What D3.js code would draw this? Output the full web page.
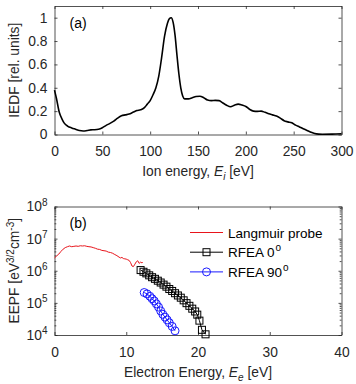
<!DOCTYPE html>
<html>
<head>
<meta charset="utf-8">
<script src="https://cdn.jsdelivr.net/npm/d3@7"></script>
<style>
    body { margin: 0; background: #fff; }
    svg { font-family: "Liberation Sans", Arial, sans-serif; }
    .domain { stroke: #262626; stroke-width: 0.8; }
    .tick line { stroke: #262626; stroke-width: 0.8; }
    .tick text { fill: #262626; font-size: 13.8px; }
</style>
</head>
<body>
<svg id="chart" width="356" height="384"></svg>
<script>
// (a) IEDF
var ionEnergy = [0, 2, 5, 8, 10, 14, 18, 22, 26, 30, 34, 38, 42, 46, 50, 54, 58, 62, 66, 70, 74, 78, 82, 86, 90, 94, 97, 100, 103, 106, 109, 112, 115, 118, 120, 122, 124, 126, 128, 130, 132, 134, 136, 140, 144, 148, 152, 156, 160, 164, 168, 172, 176, 180, 184, 188, 192, 196, 200, 204, 208, 212, 216, 220, 224, 228, 232, 236, 240, 244, 248, 252, 256, 260, 264, 268, 272, 276, 280, 290, 300];
var iedf = [0.38, 0.31, 0.19, 0.13, 0.10, 0.07, 0.056, 0.045, 0.034, 0.03, 0.034, 0.04, 0.041, 0.045, 0.058, 0.078, 0.095, 0.115, 0.14, 0.16, 0.168, 0.175, 0.19, 0.205, 0.212, 0.23, 0.26, 0.29, 0.34, 0.4, 0.5, 0.66, 0.84, 0.95, 0.99, 1.0, 0.96, 0.85, 0.68, 0.52, 0.4, 0.33, 0.305, 0.305, 0.315, 0.325, 0.328, 0.315, 0.295, 0.29, 0.292, 0.29, 0.27, 0.25, 0.238, 0.25, 0.26, 0.252, 0.24, 0.215, 0.2, 0.198, 0.2, 0.19, 0.178, 0.168, 0.158, 0.14, 0.118, 0.108, 0.1, 0.08, 0.065, 0.05, 0.035, 0.02, 0.008, 0.003, 0.002, 0.003, 0.006];
var iedfXTicks = [0, 50, 100, 150, 200, 250, 300];
var iedfYTicks = [0, 0.2, 0.4, 0.6, 0.8, 1];

// (b) EEPF
var probeEnergy = [0, 0.3, 0.6, 0.9, 1.2, 1.5, 1.8, 2.1, 2.4, 2.7, 3.0, 3.3, 3.6, 3.9, 4.2, 4.5, 4.8, 5.1, 5.4, 5.7, 6.0, 6.3, 6.6, 6.9, 7.2, 7.5, 7.8, 8.1, 8.4, 8.7, 9.0, 9.2, 9.4, 9.6, 9.8, 10.0, 10.2, 10.4, 10.6, 10.8, 11.0, 11.2, 11.4, 11.6, 11.8, 12.0, 12.2, 12.3];
var probeEepf = [2.5e6, 2.9e6, 3.3e6, 4.0e6, 4.7e6, 5.25e6, 5.6e6, 5.9e6, 5.6e6, 5.75e6, 5.9e6, 5.75e6, 6.0e6, 5.9e6, 6.0e6, 5.75e6, 5.6e6, 5.5e6, 5.25e6, 5.0e6, 4.7e6, 4.6e6, 4.3e6, 4.2e6, 4.1e6, 3.8e6, 3.7e6, 3.5e6, 3.2e6, 2.95e6, 2.65e6, 2.5e6, 2.6e6, 2.4e6, 2.35e6, 2.3e6, 2.2e6, 2.1e6, 1.8e6, 1.4e6, 1.35e6, 1.6e6, 1.9e6, 2.05e6, 1.7e6, 1.85e6, 1.75e6, 1.85e6];
var rfea0Energy = [12.0, 12.4, 12.8, 13.2, 13.6, 14.0, 14.4, 14.8, 15.2, 15.6, 16.0, 16.4, 16.8, 17.2, 17.6, 18.0, 18.4, 18.8, 19.2, 19.6, 19.9, 20.2, 20.55, 21.05];
var rfea0Eepf = [1.05e6, 9.3e5, 8.3e5, 7.2e5, 6.3e5, 5.6e5, 4.9e5, 4.3e5, 3.7e5, 3.2e5, 2.7e5, 2.35e5, 2.0e5, 1.7e5, 1.45e5, 1.2e5, 9.8e4, 8.1e4, 6.6e4, 5.4e4, 4.3e4, 2.8e4, 1.45e4, 1.05e4];
var rfea90Energy = [12.5, 12.9, 13.3, 13.6, 13.9, 14.2, 14.5, 14.8, 15.1, 15.4, 15.7, 16.0, 16.4, 16.8];
var rfea90Eepf = [2.1e5, 1.9e5, 1.6e5, 1.35e5, 1.15e5, 9.3e4, 7.4e4, 5.6e4, 4.4e4, 3.6e4, 2.95e4, 2.4e4, 1.85e4, 1.35e4];
var eepfXTicks = [0, 10, 20, 30, 40];
var eepfYTicks = [1e4, 1e5, 1e6, 1e7, 1e8];
var legendNames = ["Langmuir probe", "RFEA 0", "RFEA 90"];

var svg = d3.select("#chart");
var left = 54.5, right = 341.5;

function boxAxes(g, xScale, yScale, xTicks, yTicks, h, w) {
    g.append('g').attr('transform', 'translate(0,' + h + ')')
        .call(d3.axisBottom(xScale).tickValues(xTicks).tickSizeInner(-3).tickSizeOuter(0).tickPadding(12));
    g.append('g')
        .call(d3.axisTop(xScale).tickValues(xTicks).tickSizeInner(-3).tickSizeOuter(0).tickFormat(''));
    var yl = g.append('g')
        .call(d3.axisLeft(yScale).tickValues(yTicks).tickSizeInner(-3).tickSizeOuter(0).tickPadding(7)
            .tickFormat(d3.format('~g')));
    g.append('g').attr('transform', 'translate(' + w + ',0)')
        .call(d3.axisRight(yScale).tickValues(yTicks).tickSizeInner(-3).tickSizeOuter(0).tickFormat(''));
    return yl;
}

// ---------- panel (a) ----------
var pa = {top: 6, bottom: 134.5};
var wa = right - left, ha = pa.bottom - pa.top;
var ga = svg.append('g').attr('transform', 'translate(' + left + ',' + pa.top + ')');
var xa = d3.scaleLinear().domain([0, 300]).range([0, wa]);
var ya = d3.scaleLinear().domain([0, 1.1]).range([ha, 0]);
boxAxes(ga, xa, ya, iedfXTicks, iedfYTicks, ha, wa);

var iedfData = ionEnergy.map(function(d, i) { return {x: d, y: iedf[i]}; });
ga.append('path').datum(iedfData)
    .attr('fill', 'none').attr('stroke', '#000').attr('stroke-width', 1.6)
    .attr('d', d3.line().x(function(d) { return xa(d.x); }).y(function(d) { return ya(d.y); }).curve(d3.curveMonotoneX));

ga.append('text').attr('x', 15).attr('y', 22).attr('font-size', '14px').attr('fill', '#000').text('(a)');

var xla = svg.append('text').attr('x', left + wa / 2).attr('y', 176).attr('text-anchor', 'middle')
    .attr('font-size', '13.8px').attr('fill', '#262626');
xla.append('tspan').text('Ion energy, ');
xla.append('tspan').attr('font-style', 'italic').text('E');
xla.append('tspan').attr('font-style', 'italic').attr('font-size', '10px').attr('dy', 4).text('i');
xla.append('tspan').attr('dy', -4).text(' [eV]');

svg.append('text').attr('transform', 'translate(19,' + (pa.top + ha / 2) + ') rotate(-90)')
    .attr('text-anchor', 'middle').attr('font-size', '13.8px').attr('fill', '#262626')
    .text('IEDF [rel. units]');

// ---------- panel (b) ----------
var pb = {top: 206.5, bottom: 335};
var wb = right - left, hb = pb.bottom - pb.top;
var gb = svg.append('g').attr('transform', 'translate(' + left + ',' + pb.top + ')');
var xb = d3.scaleLinear().domain([0, 40]).range([0, wb]);
var yb = d3.scaleLog().domain([1e4, 1e8]).range([hb, 0]);

// minor log ticks
var minor = [];
eepfYTicks.slice(0, -1).forEach(function(d) {
    for (var k = 2; k <= 9; k++) minor.push(d * k);
});
gb.append('g').call(d3.axisLeft(yb).tickValues(minor).tickSizeInner(-1.8).tickSizeOuter(0).tickFormat(''))
    .select('.domain').remove();
gb.append('g').attr('transform', 'translate(' + wb + ',0)')
    .call(d3.axisRight(yb).tickValues(minor).tickSizeInner(-1.8).tickSizeOuter(0).tickFormat(''))
    .select('.domain').remove();

var ylb = boxAxes(gb, xb, yb, eepfXTicks, eepfYTicks, hb, wb);
ylb.selectAll('.tick text').each(function(d) {
    var t = d3.select(this);
    t.text('10');
    t.append('tspan').attr('dy', '-0.55em').attr('font-size', '10px').text(Math.round(Math.log10(d)));
});

var probeData = probeEnergy.map(function(d, i) { return {x: d, y: probeEepf[i]}; });
var r0Data = rfea0Energy.map(function(d, i) { return {x: d, y: rfea0Eepf[i]}; });
var r90Data = rfea90Energy.map(function(d, i) { return {x: d, y: rfea90Eepf[i]}; });
var lineB = d3.line().x(function(d) { return xb(d.x); }).y(function(d) { return yb(d.y); });

gb.append('path').datum(probeData).attr('fill', 'none').attr('stroke', '#e8141b').attr('stroke-width', 1).attr('d', lineB);
gb.append('path').datum(r0Data).attr('fill', 'none').attr('stroke', '#000').attr('stroke-width', 1).attr('d', lineB);
gb.append('path').datum(r90Data).attr('fill', 'none').attr('stroke', '#1a1aff').attr('stroke-width', 1).attr('d', lineB);

gb.selectAll('rect.sq').data(r0Data).enter().append('rect')
    .attr('class', 'sq')
    .attr('x', function(d) { return xb(d.x) - 3.5; })
    .attr('y', function(d) { return yb(d.y) - 3.5; })
    .attr('width', 7).attr('height', 7)
    .attr('fill', 'none').attr('stroke', '#000').attr('stroke-width', 1);
gb.selectAll('circle.ci').data(r90Data).enter().append('circle')
    .attr('class', 'ci')
    .attr('cx', function(d) { return xb(d.x); })
    .attr('cy', function(d) { return yb(d.y); })
    .attr('r', 4)
    .attr('fill', 'none').attr('stroke', '#1a1aff').attr('stroke-width', 1);

gb.append('text').attr('x', 15).attr('y', 21).attr('font-size', '14px').attr('fill', '#000').text('(b)');

// legend
var leg = svg.append('g').attr('transform', 'translate(190,232.5)');
var legColors = ['#e8141b', '#000', '#1a1aff'];
legendNames.forEach(function(name, i) {
    var row = leg.append('g').attr('transform', 'translate(0,' + (i * 19.7) + ')');
    row.append('line').attr('x1', 0).attr('x2', 33).attr('y1', 0).attr('y2', 0)
        .attr('stroke', legColors[i]).attr('stroke-width', 1);
    if (i === 1) {
        row.append('rect').attr('x', 13).attr('y', -3.5).attr('width', 7).attr('height', 7)
            .attr('fill', 'none').attr('stroke', '#000');
    }
    if (i === 2) {
        row.append('circle').attr('cx', 16.5).attr('cy', 0).attr('r', 4)
            .attr('fill', 'none').attr('stroke', '#1a1aff');
    }
    var t = row.append('text').attr('x', 38).attr('y', 5).attr('font-size', '13.5px').attr('fill', '#000').text(name);
    if (i > 0) {
        t.append('tspan').attr('dy', -6).attr('dx', 1).attr('font-size', '10px').text('o');
    }
});

var xlb = svg.append('text').attr('x', left + wb / 2).attr('y', 376.5).attr('text-anchor', 'middle')
    .attr('font-size', '13.8px').attr('fill', '#262626');
xlb.append('tspan').text('Electron Energy, ');
xlb.append('tspan').attr('font-style', 'italic').text('E');
xlb.append('tspan').attr('font-style', 'italic').attr('font-size', '10px').attr('dy', 4).text('e');
xlb.append('tspan').attr('dy', -4).text('  [eV]');

var ylbl = svg.append('text').attr('transform', 'translate(19,' + (pb.top + hb / 2) + ') rotate(-90)')
    .attr('text-anchor', 'middle').attr('font-size', '13.8px').attr('fill', '#262626');
ylbl.append('tspan').text('EEPF [eV');
ylbl.append('tspan').attr('dy', -5).attr('font-size', '10px').text('3/2');
ylbl.append('tspan').attr('dy', 5).text('cm');
ylbl.append('tspan').attr('dy', -5).attr('font-size', '10px').text('-3');
ylbl.append('tspan').attr('dy', 5).text(']');
</script>
</body>
</html>
